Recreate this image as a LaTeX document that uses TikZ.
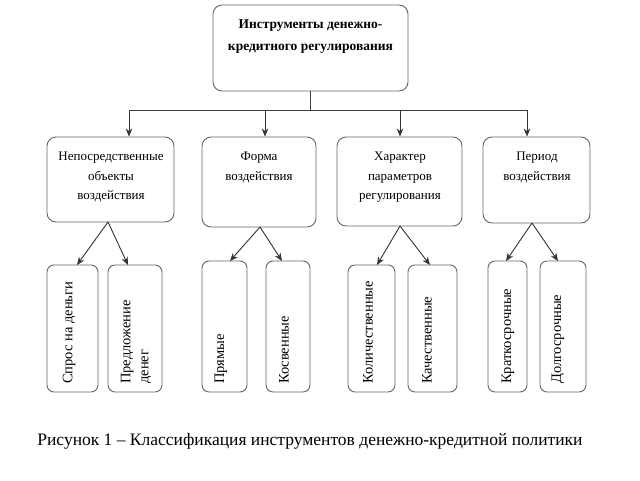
\documentclass[tikz,border=0pt]{standalone}
\usepackage{fontspec}
\setmainfont{Liberation Serif}
\usetikzlibrary{arrows.meta,calc}
\begin{document}
\begin{tikzpicture}[x=1pt,y=-1pt,
  box/.style={draw=black!60, line width=0.9pt, rounded corners=9pt, inner sep=0pt},
  leaf/.style={draw=black!60, line width=0.9pt, rounded corners=7pt, inner sep=0pt},
  txt/.style={font=\fontsize{13}{19.5}\selectfont, align=center, inner sep=0pt, anchor=north},
  ttl/.style={font=\bfseries\fontsize{13.5}{22}\selectfont, align=center, inner sep=0pt, anchor=north},
  vtxt/.style={font=\fontsize{14.5}{18}\selectfont, align=left, inner sep=0pt, rotate=90, anchor=west},
  conn/.style={draw=black!75, line width=0.9pt},
  arr/.style={draw=black!80, line width=0.9pt, -{Stealth[length=8pt,width=6.5pt]}}]
\useasboundingbox (0,0) rectangle (640,480);
\fill[white] (0,0) rectangle (640,480);

% top
\node[box, minimum width=195pt, minimum height=86pt] (top) at (310.5,48) {};
\node[ttl] (toptxt) at (310.5,19) {Инструменты денежно-\\кредитного регулирования};

% second level
\node[box, minimum width=127pt, minimum height=85pt] (s1) at (110.5,179.5) {};
\node[box, minimum width=114pt, minimum height=90pt] (s2) at (259,182) {};
\node[box, minimum width=125pt, minimum height=89pt] (s3) at (399.5,181.5) {};
\node[box, minimum width=107pt, minimum height=86pt] (s4) at (536.5,180) {};
\node[txt] (t1) at (111,152) {Непосредственные\\объекты\\воздействия};
\node[txt] (t2) at (259,152) {Форма\\воздействия};
\node[txt] (t3) at (400,152) {Характер\\параметров\\регулирования};
\node[txt] (t4) at (537,152) {Период\\воздействия};

% leaves
\node[leaf, minimum width=51pt, minimum height=127pt] (b11) at (72.5,328.5) {};
\node[leaf, minimum width=54pt, minimum height=127pt] (b12) at (135,328.5) {};
\node[leaf, minimum width=45pt, minimum height=131pt] (b21) at (224.5,326.5) {};
\node[leaf, minimum width=44pt, minimum height=131pt] (b22) at (288,326.5) {};
\node[leaf, minimum width=47pt, minimum height=127pt] (b31) at (371.5,328.5) {};
\node[leaf, minimum width=49pt, minimum height=127pt] (b32) at (432.5,328.5) {};
\node[leaf, minimum width=39pt, minimum height=131pt] (b41) at (507.5,326.5) {};
\node[leaf, minimum width=46pt, minimum height=131pt] (b42) at (563,326.5) {};

\node[vtxt] (v11) at (69,384) {Спрос на деньги};
\node[vtxt] (v12) at (136,384) {Предложение\\денег};
\node[vtxt] (v21) at (221,384) {Прямые};
\node[vtxt] (v22) at (284,384) {Косвенные};
\node[vtxt] (v31) at (368,384) {Количественные};
\node[vtxt] (v32) at (427,384) {Качественные};
\node[vtxt] (v41) at (508,384) {Краткосрочные};
\node[vtxt] (v42) at (558,384) {Долгосрочные};

% bus
\coordinate (bus) at (310.5,110);
\coordinate (j1) at (129,110);
\coordinate (j2) at (265,110);
\coordinate (j3) at (400,110);
\coordinate (j4) at (527,110);
\draw[conn] (top.south) -- (bus);
\draw[conn] (j1) -- (j4);
\draw[arr] (j1) -- (j1 |- s1.north);
\draw[arr] (j2) -- (j2 |- s2.north);
\draw[arr] (j3) -- (j3 |- s3.north);
\draw[arr] (j4) -- (j4 |- s4.north);

% fan-out
\coordinate (o1) at (108,222);
\coordinate (o2) at (260,227);
\coordinate (o3) at (400,226);
\coordinate (o4) at (532,223);
\draw[arr] (o1) -- (77,265);
\draw[arr] (o1) -- (128,265);
\draw[arr] (o2) -- (230,261);
\draw[arr] (o2) -- (282,261);
\draw[arr] (o3) -- (377,265);
\draw[arr] (o3) -- (430,265);
\draw[arr] (o4) -- (506,261);
\draw[arr] (o4) -- (558,261);

% caption
\node[font=\fontsize{17.5}{20}\selectfont, inner sep=0pt] (cap) at (310,441) {Рисунок 1 – Классификация инструментов денежно-кредитной политики};
\end{tikzpicture}
\end{document}
